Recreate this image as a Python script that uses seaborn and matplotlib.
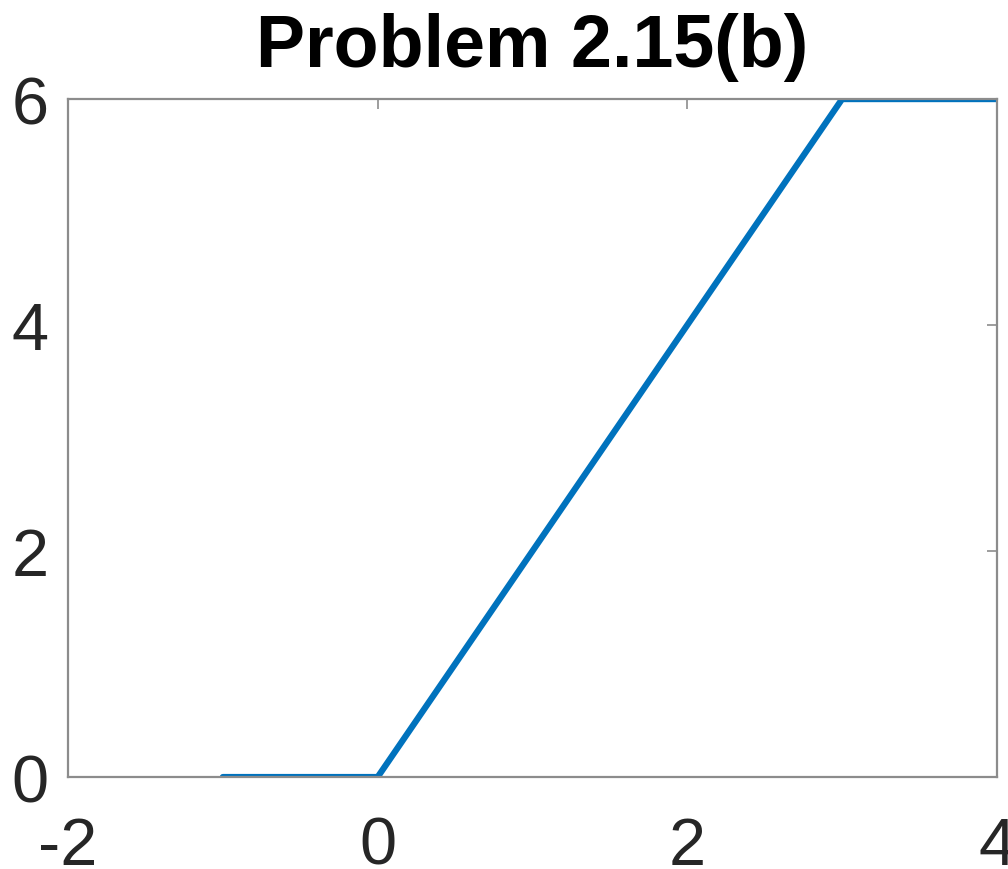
import matplotlib
matplotlib.use("Agg")
import matplotlib.pyplot as plt
import seaborn as sns
import pandas as pd

# piecewise signal from the picture
t = [-1, 0, 3, 4]
y = [0, 0, 6, 6]
x_ticks = [-2, 0, 2, 4]
y_ticks = [0, 2, 4, 6]
title = "Problem 2.15(b)"

sns.set_style("white")
plt.rcParams["font.family"] = ["Liberation Sans", "DejaVu Sans"]

df = pd.DataFrame({"t": t, "y": y})

fig = plt.figure(figsize=(10.08, 8.70), dpi=100)
ax = fig.add_axes([0.0675, 0.1057, 0.9215, 0.7793])
sns.lineplot(data=df, x="t", y="y", ax=ax, color="#0072BD", linewidth=4.5,
             sort=False, estimator=None)

ax.set_xlim(-2, 4)
ax.set_ylim(0, 6)
ax.set_xticks(x_ticks)
ax.set_yticks(y_ticks)
ax.set_xticklabels([str(v) for v in x_ticks])
ax.set_yticklabels([str(v) for v in y_ticks])
ax.set_xlabel("")
ax.set_ylabel("")

for s in ax.spines.values():
    s.set_visible(True)
    s.set_color("#8c8c8c")
    s.set_linewidth(1.6)

ax.tick_params(axis="both", direction="in", length=7, width=1.2, color="#8c8c8c",
               labelsize=48, labelcolor="#262626", top=True, right=True, pad=14)
ax.tick_params(axis="x", pad=28)

ax.set_title(title, fontsize=53, fontweight="bold", color="black", pad=24)

fig.savefig("out.png", dpi=100)
